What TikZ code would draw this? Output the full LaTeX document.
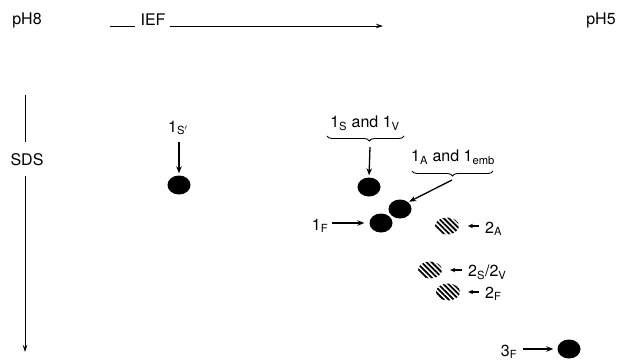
\documentclass[tikz,border=0pt]{standalone}
\usepackage{fontspec}
\setmainfont{TeX Gyre Heros}
\usetikzlibrary{arrows.meta,decorations.pathreplacing,patterns.meta,shapes.geometric}
\newcommand\sbs[1]{\textsubscript{#1}}
\begin{document}
\begin{tikzpicture}[x=1pt,y=-1pt,
  lbl/.style={font=\fontsize{16}{19}\selectfont, inner sep=0pt},
  blob/.style={shape=ellipse, fill=black, minimum width=23pt, minimum height=19pt, inner sep=0pt},
  hatch/.style={shape=ellipse, pattern={Lines[angle=-45,distance=3.6pt,line width=1.8pt]}, minimum width=24pt, minimum height=17pt, inner sep=0pt},
  arr/.style={-{Stealth[length=7pt,width=5.5pt]}, line width=1.3pt},
  sarr/.style={-{Stealth[length=5pt,width=4.5pt]}, line width=1.3pt},
  axis/.style={line width=0.9pt},
  brc/.style={decorate, decoration={brace, mirror, amplitude=5pt}, line width=0.9pt}
]
\useasboundingbox (0,0) rectangle (632,360);

% axes
\node[lbl] (ph8) at (27,20) {pH8};
\node[lbl] (ief) at (153,20) {IEF};
\node[lbl] (ph5) at (601,20) {pH5};
\coordinate (iefL) at (110,26);
\coordinate (iefR) at (383,26);
\draw[axis, shorten >=5pt] (iefL) -- (iefL -| ief.west);
\draw[axis, shorten <=4pt, -{Stealth[length=7pt,width=4.5pt]}] (ief.east |- iefR) -- (iefR);

\node[lbl] (sds) at (27,160) {SDS};
\coordinate (sdsT) at (25,95);
\coordinate (sdsB) at (25,352);
\draw[axis, shorten >=12pt] (sdsT) -- (sdsT |- sds.north);
\draw[axis, shorten <=10pt, -{Stealth[length=7pt,width=4.5pt]}] (sdsB |- sds.south) -- (sdsB);

% spot 1S'
\node[lbl] (l1s) at (178,128) {1\sbs{S$'$}};
\node[blob] (b1s) at (179,185) {};
\draw[arr, shorten <=7pt, shorten >=2pt] (l1s.south -| b1s.north) -- (b1s.north);

% spot 1S and 1V
\node[lbl] (l1sv) at (365,123) {1\sbs{S} and 1\sbs{V}};
\coordinate (br1a) at (327,136);
\coordinate (br1b) at (404,136);
\draw[brc, decoration={aspect=0.55}] (br1a) -- (br1b);
\coordinate (br1t) at (370,147);
\node[blob] (b1v) at (369,187) {};
\draw[arr, shorten >=2pt] (br1t) -- (b1v.north);

% spot 1A and 1emb
\node[lbl] (l1a) at (453,157) {1\sbs{A} and 1\sbs{emb}};
\coordinate (br2a) at (412,171);
\coordinate (br2b) at (493,171);
\draw[brc] (br2a) -- (br2b);
\coordinate (br2t) at (452,180);
\node[blob] (b1a) at (400,209) {};
\draw[arr, shorten >=1pt] (br2t) -- (b1a.north east);

% spot 1F
\node[blob] (b1f) at (381,223) {};
\node[lbl] (l1f) at (320,226) {1\sbs{F}};
\draw[arr, shorten <=4pt, shorten >=5pt] (l1f.east |- b1f) -- (b1f.west);

% hatched spots
\node[hatch] (h2a) at (447,226) {};
\node[lbl, anchor=west] (l2a) at (485,229) {2\sbs{A}};
\draw[sarr, shorten <=6pt, shorten >=8pt] (l2a.west |- h2a) -- (h2a.east);

\node[hatch] (h2s) at (430,270) {};
\node[lbl, anchor=west] (l2s) at (468,272) {2\sbs{S}/2\sbs{V}};
\draw[sarr, shorten <=6pt, shorten >=8pt] (l2s.west |- h2s) -- (h2s.east);

\node[hatch] (h2f) at (448,292) {};
\node[lbl, anchor=west] (l2f) at (485,294) {2\sbs{F}};
\draw[sarr, shorten <=6pt, shorten >=8pt] (l2f.west |- h2f) -- (h2f.east);

% spot 3F
\node[blob] (b3f) at (569,349) {};
\node[lbl] (l3f) at (509,352) {3\sbs{F}};
\draw[arr, shorten <=6pt, shorten >=4pt] (l3f.east |- b3f) -- (b3f.west);
\end{tikzpicture}
\end{document}
